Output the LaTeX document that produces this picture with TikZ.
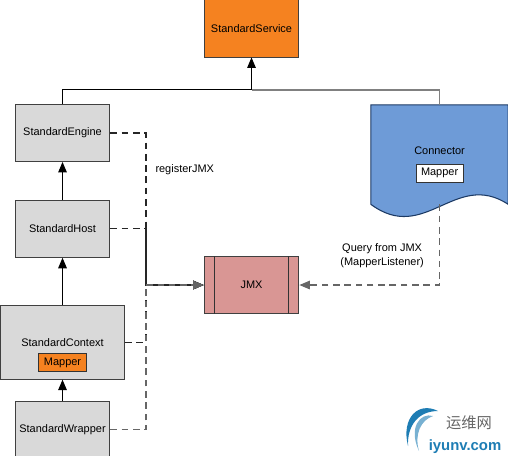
\documentclass[tikz,border=0pt]{standalone}
\usepackage{fontspec}
\setmainfont{Liberation Sans}
\newfontfamily\cjkfont{Noto Sans CJK SC}
\usepackage{tikz}
\usepackage{xcolor}
\usetikzlibrary{arrows, positioning}
\definecolor{orangebox}{RGB}{245, 130, 32}
\definecolor{graybox}{RGB}{217, 217, 217}
\definecolor{jmxred}{RGB}{217, 150, 148}
\definecolor{connblue}{RGB}{110, 155, 215}
\definecolor{darkblue}{RGB}{28, 58, 100}
\definecolor{logoblue}{RGB}{30, 125, 180}
\tikzset{
  basebox/.style={rectangle, draw=black!75, line width=0.7pt, font=\fontsize{8.25}{10}\selectfont,
                  minimum width=2.51cm, minimum height=1.51cm, inner sep=0pt},
  graynode/.style={basebox, fill=graybox},
  mapperbox/.style={rectangle, draw=black!80, line width=0.6pt, font=\fontsize{8.25}{10}\selectfont,
                    minimum width=1.25cm, minimum height=0.47cm, inner sep=0pt},
  solidline/.style={line width=0.8pt, draw=black},
  dashline/.style={line width=0.8pt, dashed, dash pattern=on 5pt off 3.5pt, draw=black!85},
  textlabel/.style={font=\fontsize{8.25}{10.5}\selectfont, align=center}
}

\begin{document}
\begin{tikzpicture}
\useasboundingbox (0,0) rectangle (13.44,12.04);

% Service on top
\node[basebox, fill=orangebox] (service) at (6.654,11.286) {StandardService};
\coordinate (join) at (6.654,9.66);

% Left column
\node[graynode] (engine) at (1.654,8.521) {StandardEngine};
\node[graynode, below=1.0cm of engine] (host) {StandardHost};
\node[graynode, minimum width=3.28cm, minimum height=1.96cm,
      below=1.24cm of host] (context) {};
\node[mapperbox, fill=orangebox, below=1.29cm of context.north] (ctxmapper) {Mapper};
\node[above=0.17cm of ctxmapper, font=\fontsize{8.25}{10}\selectfont, inner sep=0pt] (ctxname) {StandardContext};
\node[graynode, below=0.56cm of context] (wrapper) {StandardWrapper};

% JMX
\node[basebox, fill=jmxred] (jmx) at (6.654,4.499) {JMX};
\draw[line width=0.7pt, black!80] ([xshift=0.29cm]jmx.north west) -- ([xshift=0.29cm]jmx.south west);
\draw[line width=0.7pt, black!80] ([xshift=-0.29cm]jmx.north east) -- ([xshift=-0.29cm]jmx.south east);

% Connector
\node[rectangle, minimum width=3.62cm, minimum height=2.62cm, inner sep=0pt] (connector) at (11.63,7.95) {};
\fill[connblue, draw=darkblue, line width=0.8pt] (connector.north west) -- (connector.north east)
      -- (connector.south east) .. controls +(-1.40,0.92) and +(1.43,-1.06) .. (connector.south west) -- cycle;
\node[mapperbox, fill=white] (connmapper) at (11.63,7.46) {Mapper};
\node[above=0.24cm of connmapper, font=\fontsize{8.25}{10}\selectfont, inner sep=0pt] (connname) {Connector};

% Hierarchy arrows
\draw[solidline, -triangle 45] (wrapper.north) -- (context.south);
\draw[solidline, -triangle 45] (context.north) -- (host.south);
\draw[solidline, -triangle 45] (host.north) -- (engine.south);
\draw[line width=1pt, black!50] (connector.north) |- (join);
\draw[solidline, -triangle 45] (engine.north) |- (join) -- (service.south);

% registerJMX lines
\coordinate (bus) at (3.863,4.499);
\foreach \src in {engine, host, context}
  \draw[dashline, -triangle 45] (\src.east) -| (bus) -- (jmx.west);
\draw[dashline, black!60, -triangle 45] (wrapper.east) -| (bus) -- (jmx.west);
\node[textlabel, anchor=west] (register) at (3.99,7.54) {registerJMX};

% Query line
\draw[dashline, black!60, -triangle 45] (connector.south) |- (jmx.east);
\node[textlabel] (query) at (10.11,5.27) {Query from JMX\\(MapperListener)};

% Logo in the corner
\begin{scope}[shift={(0,12.04)}, x=0.02646cm, y=-0.02646cm]
  \fill[logoblue] (438,411) .. controls (418,401) and (401,418) .. (408,446)
        .. controls (407,426) and (418,411) .. cycle;
  \fill[logoblue!60] (433,416) .. controls (420,412) and (408,428) .. (419,451)
        .. controls (414,434) and (421,420) .. cycle;
  \node[text=black!60, font=\cjkfont\fontsize{11.5}{12}\selectfont, inner sep=0pt] (logocn) at (469,423) {运维网};
  \node[text=logoblue, font=\bfseries\fontsize{11.2}{12}\selectfont, inner sep=0pt] (logourl) at (465,447) {iyunv.com};
\end{scope}

\end{tikzpicture}
\end{document}
